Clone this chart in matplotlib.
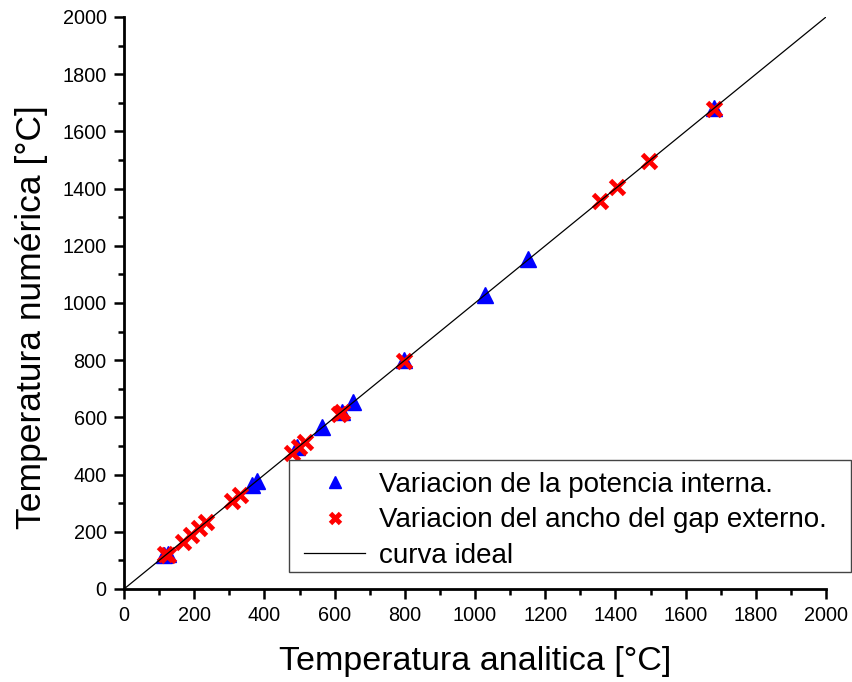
import matplotlib
matplotlib.use('Agg')
import matplotlib.pyplot as plt
from matplotlib.patches import Rectangle
import numpy as np

plt.rcParams['font.family'] = ['Liberation Sans', 'DejaVu Sans']

# Variacion de la potencia interna
pot_x = [115, 125, 365, 378, 493, 564, 621, 652, 797, 1028, 1151, 1680]
pot_y = [120, 122, 362, 376, 497, 565, 619, 654, 800, 1028, 1153, 1683]

# Variacion del ancho del gap externo
gap_x = [117, 125, 168, 192, 214, 235, 308, 330, 478, 498, 516, 612, 622, 797, 1357, 1404, 1496, 1680]
gap_y = [122, 118, 165, 190, 212, 233, 308, 330, 477, 495, 515, 612, 620, 797, 1355, 1405, 1496, 1680]

ideal = [0, 2000]

W, H = 852, 682
fig = plt.figure(figsize=(8.52, 6.82), dpi=100)
ax = fig.add_axes([124 / W, (H - 589) / H, 702 / W, 572 / H])

ax.plot(pot_x, pot_y, '^', color='#0000ff', markersize=11, linestyle='none',
        label='Variacion de la potencia interna.')
ax.plot(gap_x, gap_y, 'x', color='#ff0000', markersize=10, markeredgewidth=3.5,
        linestyle='none', label='Variacion del ancho del gap externo.')
ax.plot(ideal, ideal, color='black', linewidth=0.9, label='curva ideal')

ax.set_xlim(0, 2000)
ax.set_ylim(0, 2000)
ax.set_xticks(np.arange(0, 2001, 200))
ax.set_yticks(np.arange(0, 2001, 200))
ax.set_xticks(np.arange(0, 2001, 100), minor=True)
ax.set_yticks(np.arange(0, 2001, 100), minor=True)
ax.tick_params(which='major', direction='out', length=7.5, width=1.8, labelsize=14.3, pad=5)
ax.tick_params(which='minor', direction='out', length=4, width=1.8)
ax.spines['top'].set_visible(False)
ax.spines['right'].set_visible(False)
ax.spines['left'].set_linewidth(2)
ax.spines['bottom'].set_linewidth(2)

ax.set_xlabel('Temperatura analitica [°C]', fontsize=24.5, labelpad=15)
ax.set_ylabel('Temperatura numérica [°C]', fontsize=25.5)
ax.yaxis.set_label_coords(-0.108, 0.4755)

# recuadro de la leyenda (tapa la curva y los puntos de abajo)
box = Rectangle((289 / W, (H - 572) / H), (851 - 289) / W, 112 / H,
                transform=fig.transFigure, facecolor='white', edgecolor='#444444',
                linewidth=1.0, zorder=4, clip_on=False)
ax.add_artist(box)

leg = ax.legend(loc='lower left', bbox_to_anchor=(297 / W, (H - 576) / H),
                bbox_transform=fig.transFigure, fontsize=20, frameon=False,
                borderaxespad=0, handlelength=2.2, handletextpad=0.5,
                labelspacing=0.35, borderpad=0.25, markerscale=0.75)
leg.set_zorder(5)

fig.savefig('out.png', dpi=100)
